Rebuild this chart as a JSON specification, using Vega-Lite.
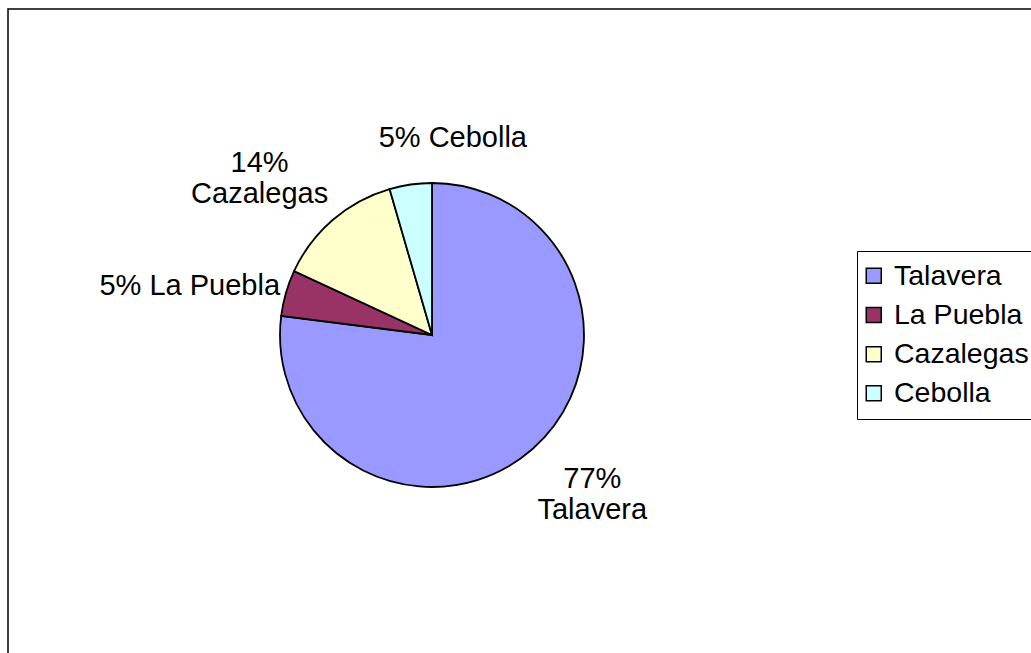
{
  "$schema": "https://vega.github.io/schema/vega-lite/v6.json",
  "width": 1026,
  "height": 647,
  "autosize": {"type": "none"},
  "padding": {"left": 8, "top": 9, "right": -3, "bottom": -3},
  "background": "white",
  "view": {"stroke": "black", "strokeWidth": 1.5, "fill": "white"},
  "config": {
    "view": {"stroke": "black", "strokeWidth": 1.5},
    "font": "Liberation Sans"
  },
  "data": {
    "values": [
      {"Region": "Talavera", "valor": 77.0, "orden": 1, "etiqueta": "77%\nTalavera"},
      {"Region": "La Puebla", "valor": 4.9, "orden": 2, "etiqueta": "5% La Puebla"},
      {"Region": "Cazalegas", "valor": 13.6, "orden": 3, "etiqueta": "14%\nCazalegas"},
      {"Region": "Cebolla", "valor": 4.5, "orden": 4, "etiqueta": "5% Cebolla"}
    ]
  },
  "encoding": {
    "theta": {"field": "valor", "type": "quantitative", "stack": true},
    "order": {"field": "orden", "type": "quantitative"}
  },
  "layer": [
    {
      "mark": {"type": "arc", "x": 424, "y": 326, "outerRadius": 152, "stroke": "black", "strokeWidth": 1.8},
      "encoding": {
        "color": {
          "field": "Region",
          "type": "nominal",
          "sort": ["Talavera", "La Puebla", "Cazalegas", "Cebolla"],
          "scale": {
            "domain": ["Talavera", "La Puebla", "Cazalegas", "Cebolla"],
            "range": ["#9999FF", "#993366", "#FFFFCC", "#CCFFFF"]
          },
          "legend": {
            "orient": "none",
            "legendX": 849,
            "legendY": 242,
            "title": null,
            "symbolType": "square",
            "symbolSize": 225,
            "symbolStrokeColor": "black",
            "symbolStrokeWidth": 1.5,
            "symbolOpacity": 1,
            "symbolOffset": -8,
            "labelFontSize": 28.5,
            "labelFont": "Liberation Sans",
            "labelColor": "black",
            "labelOffset": 6,
            "rowPadding": 10.2,
            "padding": 10.5,
            "strokeColor": "black",
            "fillColor": "white"
          }
        }
      }
    },
    {
      "mark": {
        "type": "text",
        "x": 424,
        "y": 326,
        "radius": 200,
        "fontSize": 29,
        "lineBreak": "\n",
        "color": "black",
        "font": "Liberation Sans",
        "dx": {"expr": "datum.Region === 'Talavera' ? 28 : datum.Region === 'La Puebla' ? -50 : datum.Region === 'Cazalegas' ? -42 : 49"},
        "dy": {"expr": "datum.Region === 'Talavera' ? -6 : datum.Region === 'La Puebla' ? 6 : datum.Region === 'Cazalegas' ? -20 : 1"}
      },
      "encoding": {
        "text": {"field": "etiqueta", "type": "nominal"}
      }
    }
  ]
}
